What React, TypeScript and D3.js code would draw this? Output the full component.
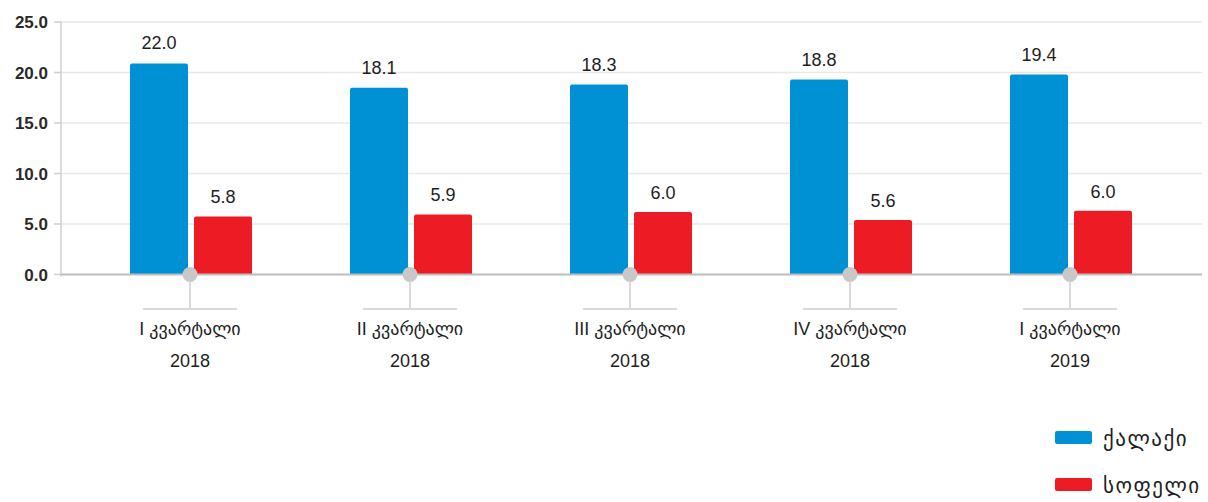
import * as d3 from "d3";

// quarters on the x axis (two lines each)
const quarters = ["I კვარტალი", "II კვარტალი", "III კვარტალი", "IV კვარტალი", "I კვარტალი"];
const years = ["2018", "2018", "2018", "2018", "2019"];

// bar heights as drawn, and the printed labels above them
const cityValues = [20.9, 18.5, 18.8, 19.3, 19.8];
const cityLabels = ["22.0", "18.1", "18.3", "18.8", "19.4"];
const villageValues = [5.75, 5.95, 6.2, 5.4, 6.3];
const villageLabels = ["5.8", "5.9", "6.0", "5.6", "6.0"];

const seriesNames = ["ქალაქი", "სოფელი"];
const yTicks = [0, 5, 10, 15, 20, 25];

const BLUE = "#0091d5";
const RED = "#ed1c24";
const FONT = "'Liberation Sans', Arial, 'DejaVu Sans', sans-serif";

export default function App() {
    const width = 1208;
    const height = 502;

    const marginLeft = 61;
    const marginRight = 6;
    const plotTop = 22;
    const plotBottom = 274.5;

    const x = d3.scaleBand<number>()
        .domain(d3.range(quarters.length))
        .range([80, 1180]);

    const y = d3.scaleLinear()
        .domain([0, 25])
        .range([plotBottom, plotTop]);

    const barW = 58;

    return (
        <svg width={width} height={height} viewBox={`0 0 ${width} ${height}`}
            style={{ position: "absolute", left: 0, top: 0, fontFamily: FONT }}>
            {/* grid */}
            <g>
                {yTicks.filter(t => t > 0).map(t => (
                    <line key={t} x1={marginLeft} x2={width - marginRight} y1={y(t)} y2={y(t)}
                        stroke="#e8e8e8" strokeWidth={1.5} />
                ))}
            </g>

            {/* y axis */}
            <line x1={marginLeft} x2={marginLeft} y1={plotTop} y2={plotBottom + 2} stroke="#cfcfcf" strokeWidth={1.5} />
            {yTicks.map(t => (
                <g key={t}>
                    <line x1={marginLeft - 7} x2={marginLeft} y1={y(t)} y2={y(t)} stroke="#cfcfcf" strokeWidth={1.5} />
                    <text x={48} y={y(t) + 6} textAnchor="end" fontSize={17} fontWeight="bold" fill="#2a2a2a">
                        {d3.format(".1f")(t)}
                    </text>
                </g>
            ))}

            {/* bars */}
            {quarters.map((_, i) => {
                const cx = x(i)! + x.bandwidth() / 2;
                return (
                    <g key={i}>
                        <path d={roundTop(cx - 2 - barW, y(cityValues[i]), barW, y(0) - y(cityValues[i]), 2)} fill={BLUE} />
                        <path d={roundTop(cx + 4, y(villageValues[i]), barW, y(0) - y(villageValues[i]), 2)} fill={RED} />
                        <text x={cx - 2 - barW / 2} y={y(cityValues[i]) - 14} textAnchor="middle" fontSize={18} fill="#1e1e1e">
                            {cityLabels[i]}
                        </text>
                        <text x={cx + 4 + barW / 2} y={y(villageValues[i]) - 13} textAnchor="middle" fontSize={18} fill="#1e1e1e">
                            {villageLabels[i]}
                        </text>
                    </g>
                );
            })}

            {/* baseline */}
            <line x1={marginLeft} x2={width - marginRight} y1={y(0)} y2={y(0)} stroke="#bdbdbd" strokeWidth={2} />

            {/* category ticks */}
            {quarters.map((q, i) => {
                const cx = x(i)! + x.bandwidth() / 2;
                return (
                    <g key={i}>
                        <line x1={cx} x2={cx} y1={y(0)} y2={309} stroke="#d9d9d9" strokeWidth={2} />
                        <line x1={cx - 47} x2={cx + 47} y1={309} y2={309} stroke="#d9d9d9" strokeWidth={2} />
                        <circle cx={cx} cy={y(0)} r={7.5} fill="#c8c8c8" />
                        <text x={cx} y={335} textAnchor="middle" fontSize={18} fill="#1e1e1e">{q}</text>
                        <text x={cx} y={367} textAnchor="middle" fontSize={18} fill="#1e1e1e">{years[i]}</text>
                    </g>
                );
            })}

            {/* legend */}
            {seriesNames.map((name, i) => (
                <g key={name} transform={`translate(1055,${431 + i * 47})`}>
                    <rect width={37} height={13} rx={2} fill={i === 0 ? BLUE : RED} />
                    <text x={48} y={15} fontSize={21} letterSpacing={1.5} fill="#1e1e1e">{name}</text>
                </g>
            ))}
        </svg>
    );
}

function roundTop(x0: number, y0: number, w: number, h: number, r: number) {
    const p = d3.path();
    p.moveTo(x0, y0 + h);
    p.lineTo(x0, y0 + r);
    p.quadraticCurveTo(x0, y0, x0 + r, y0);
    p.lineTo(x0 + w - r, y0);
    p.quadraticCurveTo(x0 + w, y0, x0 + w, y0 + r);
    p.lineTo(x0 + w, y0 + h);
    p.closePath();
    return p.toString();
}
